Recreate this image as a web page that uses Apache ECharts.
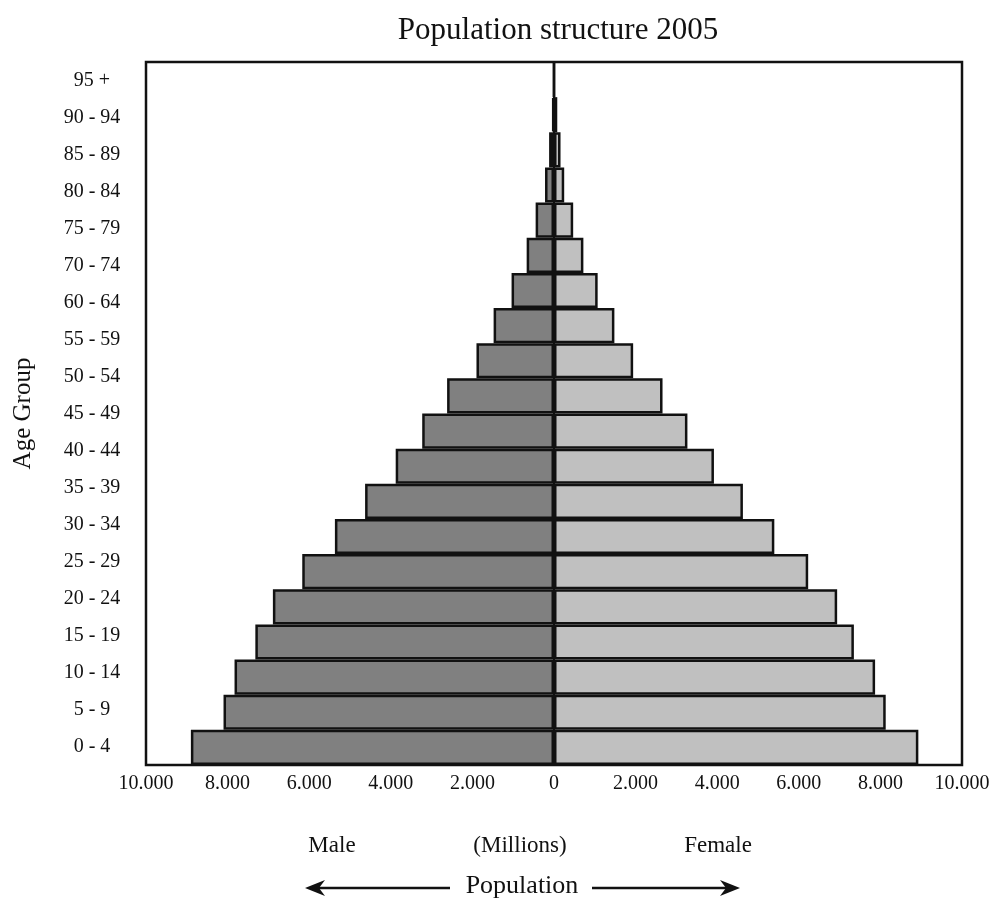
<!DOCTYPE html>
<html>
<head>
<meta charset="utf-8">
<title>Population structure 2005</title>
<script src="https://cdn.jsdelivr.net/npm/echarts@6/dist/echarts.min.js"></script>
<style>
  html, body { margin: 0; padding: 0; background: #fff; }
  #main { width: 997px; height: 901px; }
</style>
</head>
<body>
<div id="main"></div>
<script>
// bar slots, bottom to top (20 groups; the printed labels skip 65 - 69)
var groups = ['0 - 4', '5 - 9', '10 - 14', '15 - 19', '20 - 24', '25 - 29', '30 - 34',
  '35 - 39', '40 - 44', '45 - 49', '50 - 54', '55 - 59', '60 - 64', '65 - 69',
  '70 - 74', '75 - 79', '80 - 84', '85 - 89', '90 - 94', '95 +'];
// labels as printed on the chart, bottom to top
var tickLabels = ['0 - 4', '5 - 9', '10 - 14', '15 - 19', '20 - 24', '25 - 29', '30 - 34',
  '35 - 39', '40 - 44', '45 - 49', '50 - 54', '55 - 59', '60 - 64',
  '70 - 74', '75 - 79', '80 - 84', '85 - 89', '90 - 94', '95 +'];
var male = [8900, 8100, 7830, 7320, 6890, 6170, 5370, 4630, 3880, 3230, 2620, 1900, 1480, 1040, 670, 450, 220, 120, 40, 0];
var female = [8930, 8130, 7870, 7350, 6940, 6230, 5400, 4630, 3920, 3270, 2660, 1940, 1480, 1070, 720, 470, 250, 160, 80, 0];

var serif = '"Liberation Serif", "Times New Roman", serif';
var ink = '#111';

function fmt(v) {
  var s = String(Math.abs(v));
  return s.replace(/\B(?=(\d{3})+(?!\d))/g, '.');
}

var chart = echarts.init(document.getElementById('main'));

function arrow(x1, x2, y) {
  // line from x1 to x2, head at x2
  var dir = x2 > x1 ? 1 : -1;
  return [
    {type: 'line', shape: {x1: x1, y1: y, x2: x2 - dir * 12, y2: y},
      style: {stroke: ink, lineWidth: 2.5}},
    {type: 'polygon', shape: {points: [[x2, y], [x2 - dir * 20, y - 8], [x2 - dir * 14, y], [x2 - dir * 20, y + 8]]},
      style: {fill: ink}}
  ];
}

var option = {
  animation: false,
  title: {
    text: 'Population structure 2005',
    left: 553,
    textAlign: 'center',
    top: 10,
    textStyle: {fontFamily: serif, fontSize: 31, fontWeight: 'normal', color: ink}
  },
  grid: {
    left: 146, right: 35, top: 62, bottom: 136,
    show: true, borderColor: ink, borderWidth: 2.5
  },
  xAxis: {
    type: 'value',
    min: -10000, max: 10000, interval: 2000,
    axisLine: {show: false},
    axisTick: {show: true, inside: true, length: 7, lineStyle: {color: ink, width: 2}},
    splitLine: {show: false},
    axisLabel: {
      formatter: fmt, margin: 9,
      fontFamily: serif, fontSize: 20, color: ink
    }
  },
  yAxis: [
    {
      type: 'category',
      data: groups,
      axisLine: {show: true, onZero: true, lineStyle: {color: ink, width: 2}},
      axisTick: {show: false},
      axisLabel: {show: false},
      splitLine: {show: false}
    },
    {
      type: 'category',
      data: tickLabels,
      position: 'left',
      axisLine: {show: false, onZero: false},
      axisTick: {show: false},
      splitLine: {show: false},
      axisLabel: {align: 'center', margin: 54, fontFamily: serif, fontSize: 20, color: ink},
      name: 'Age Group',
      nameLocation: 'middle',
      nameGap: 110,
      nameRotate: 90,
      nameTextStyle: {fontFamily: serif, fontSize: 25, color: ink}
    }
  ],
  series: [
    {
      name: 'Male', type: 'bar', yAxisIndex: 0,
      barCategoryGap: '0%', barGap: '-100%',
      data: male.map(function (v) { return -v; }),
      itemStyle: {color: '#808080', borderColor: ink, borderWidth: 2.5}
    },
    {
      name: 'Female', type: 'bar', yAxisIndex: 0,
      barCategoryGap: '0%', barGap: '-100%',
      data: female,
      itemStyle: {color: '#c0c0c0', borderColor: ink, borderWidth: 2.5}
    }
  ],
  graphic: [
    {type: 'text', x: 332, y: 846, style: {text: 'Male', font: '23px ' + serif, fill: ink, align: 'center', verticalAlign: 'middle'}},
    {type: 'text', x: 520, y: 846, style: {text: '(Millions)', font: '23px ' + serif, fill: ink, align: 'center', verticalAlign: 'middle'}},
    {type: 'text', x: 718, y: 846, style: {text: 'Female', font: '23px ' + serif, fill: ink, align: 'center', verticalAlign: 'middle'}},
    {type: 'text', x: 522, y: 886, style: {text: 'Population', font: '26px ' + serif, fill: ink, align: 'center', verticalAlign: 'middle'}}
  ].concat(arrow(450, 305, 888), arrow(592, 740, 888))
};

chart.setOption(option);
</script>
</body>
</html>
